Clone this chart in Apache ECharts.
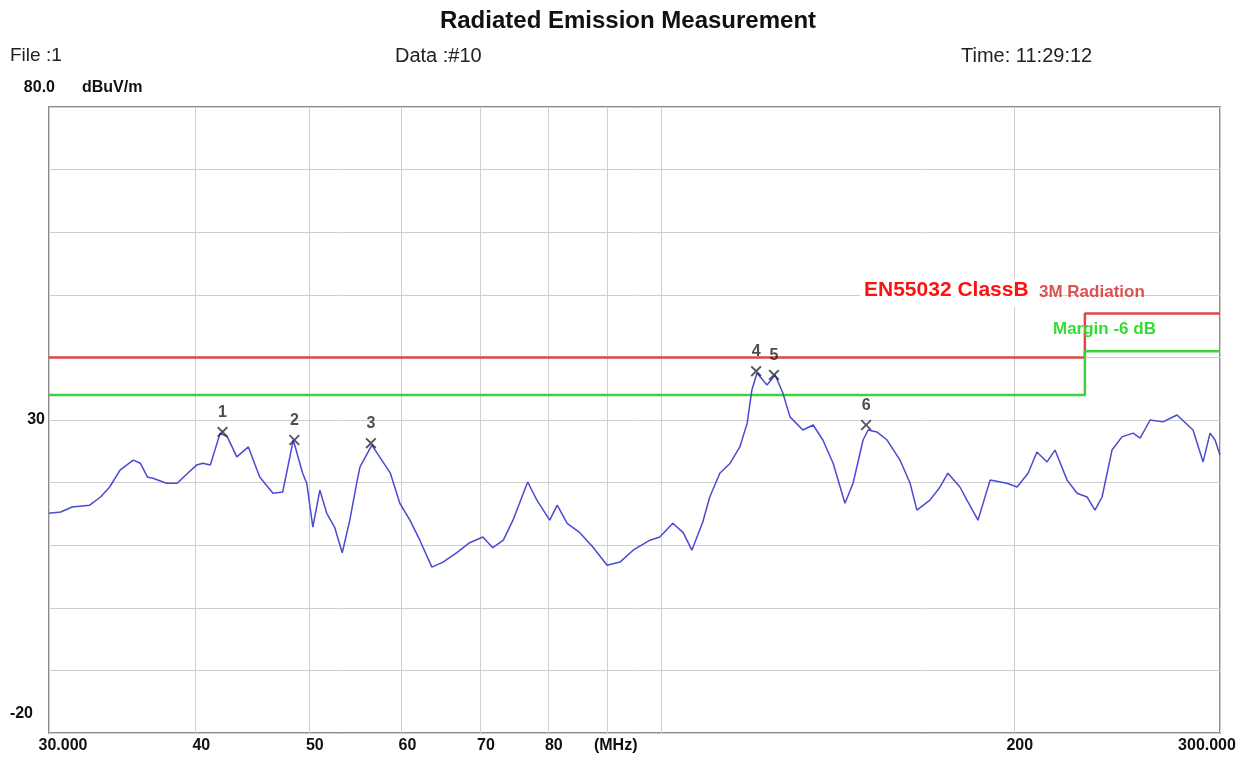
<!DOCTYPE html>
<html>
<head>
<meta charset="utf-8">
<title>Radiated Emission Measurement</title>
<script src="https://cdn.jsdelivr.net/npm/echarts@6/dist/echarts.min.js"></script>
<style>
  html, body { margin: 0; padding: 0; background: #fff; }
  #main { width: 1256px; height: 762px; }
</style>
</head>
<body>
<div id="main"></div>
<script>
var traceFreq = [30.0, 30.7, 31.4, 32.5, 33.2, 33.8, 34.5, 35.4, 35.9, 36.4, 36.8, 37.8, 38.6, 39.4, 40.1, 40.6, 41.2, 42.0, 42.6, 43.4,
  44.4, 45.4, 46.6, 47.5, 48.5, 49.4, 49.8, 50.4, 51.1, 51.8, 52.6, 53.4, 54.2, 55.0, 55.3, 56.6, 58.7, 59.8, 61.0, 62.2,
  63.7, 65.1, 66.9, 68.6, 70.4, 71.8, 73.3, 74.7, 76.9, 78.3, 80.3, 81.5, 83.1, 85.2, 87.4, 89.9, 92.2, 94.6, 97.8, 99.7,
  102.3, 104.4, 106.2, 108.5, 110.0, 112.2, 114.5, 116.7, 118.4, 119.5, 120.7, 123.1, 125.1, 127.0, 128.8, 132.1, 134.8, 137.4, 140.2, 143.5,
  145.8, 148.7, 150.2, 152.8, 155.9, 159.9, 163.1, 165.3, 169.6, 173.0, 175.7, 179.9, 182.4, 186.4, 190.9, 197.3, 201.3, 205.7, 209.3, 213.5,
  216.9, 222.1, 226.5, 231.0, 234.6, 237.9, 242.6, 247.4, 252.9, 256.4, 261.5, 268.2, 275.7, 284.5, 290.2, 294.2, 297.1, 300];
var traceLevel = [15.1, 15.3, 16.1, 16.4, 17.7, 19.3, 22.0, 23.6, 23.1, 20.9, 20.7, 19.9, 19.9, 21.5, 22.8, 23.1, 22.8, 27.9, 27.3, 24.1,
  25.7, 20.9, 18.3, 18.5, 26.8, 21.5, 19.9, 12.9, 18.8, 15.1, 12.9, 8.8, 14.0, 20.4, 22.5, 26.0, 21.5, 16.7, 14.0, 10.8,
  6.5, 7.3, 8.8, 10.4, 11.3, 9.6, 10.8, 14.0, 20.1, 17.2, 14.0, 16.4, 13.5, 12.0, 9.7, 6.8, 7.3, 9.2, 10.8, 11.3,
  13.5, 12.0, 9.2, 13.7, 17.7, 21.5, 23.1, 25.7, 29.5, 34.8, 37.5, 35.6, 37.2, 34.3, 30.5, 28.4, 29.2, 26.8, 23.1, 16.7,
  19.9, 26.8, 28.4, 28.1, 26.8, 23.6, 19.9, 15.6, 17.2, 19.3, 21.5, 19.3, 17.2, 14.0, 20.4, 19.9, 19.3, 21.5, 24.9, 23.3,
  25.2, 20.4, 18.3, 17.7, 15.6, 17.7, 25.2, 27.3, 27.9, 27.1, 30.0, 29.7, 30.8, 28.4, 23.3, 27.9, 26.8, 24.4];

// EN55032 class B 3m limit and -6 dB margin
var limitFreq = [30, 230, 230, 300];
var limitLevel = [40, 40, 47, 47];
var marginLevel = [34, 34, 41, 41];

// peak markers
var markerFreq = [42.2, 48.6, 56.5, 120.5, 124.8, 149.6];
var markerLevel = [28.1, 26.8, 26.3, 37.8, 37.2, 29.2];
var markerNames = ["1", "2", "3", "4", "5", "6"];

// axis ticks
var gridFreq = [30, 40, 50, 60, 70, 80, 90, 100, 200, 300];
var gridLabels = ["30.000", "40", "50", "60", "70", "80", "(MHz)", "", "200", "300.000"];
var yTicks = [80, 30, -20];
var yTickLabels = ["80.0", "30", "-20"];

var lg = Math.log10;
function pairs(fs, vs) {
  return fs.map(function (f, i) { return [lg(f), vs[i]]; });
}

var myChart = echarts.init(document.getElementById("main"));
var labelFont = '"Liberation Sans", Arial, sans-serif';
var xSymbol = "path://M0,1.2L1.2,0L5,3.8L8.8,0L10,1.2L6.2,5L10,8.8L8.8,10L5,6.2L1.2,10L0,8.8L3.8,5Z";

var option = {
  backgroundColor: "#fff",
  animation: false,
  title: {
    text: "Radiated Emission Measurement",
    left: "center",
    top: 4,
    textStyle: { fontFamily: labelFont, fontSize: 24, fontWeight: "bold", color: "#111" }
  },
  graphic: [
    { type: "text", left: 10, top: 46, style: { text: "File :1", fontFamily: labelFont, fontSize: 19, fill: "#222" } },
    { type: "text", left: 395, top: 46, style: { text: "Data :#10", fontFamily: labelFont, fontSize: 20, fill: "#222" } },
    { type: "text", left: 961, top: 46, style: { text: "Time: 11:29:12", fontFamily: labelFont, fontSize: 20, fill: "#222" } },
    // limit legend
    { type: "rect", shape: { x: 860, y: 279, width: 180, height: 28 }, style: { fill: "#fff" }, z: 50 },
    { type: "text", left: 864, top: 280, z: 51,
      style: { text: "EN55032 ClassB", fontFamily: labelFont, fontSize: 21, fontWeight: "bold", fill: "#ff1010" } },
    { type: "text", left: 1039, top: 284, z: 51,
      style: { text: "3M Radiation", fontFamily: labelFont, fontSize: 17, fontWeight: "bold", fill: "rgba(215,50,50,0.85)" } },
    { type: "text", left: 1053, top: 321, z: 51,
      style: { text: "Margin -6 dB", fontFamily: labelFont, fontSize: 17, fontWeight: "bold", fill: "#33dd33" } }
  ],
  grid: {
    left: 49, right: 36, top: 107, bottom: 29,
    show: true, borderColor: "#8c8c8c", borderWidth: 2, backgroundColor: "#fff"
  },
  xAxis: {
    type: "value",
    min: lg(30),
    max: lg(300),
    axisLine: { show: false },
    axisTick: { show: false, customValues: gridFreq.map(lg) },
    splitLine: { show: true, lineStyle: { color: "#cfcfcf", width: 1 } },
    axisLabel: {
      customValues: gridFreq.map(lg),
      margin: 5,
      color: "#111",
      fontFamily: labelFont,
      fontSize: 16,
      fontWeight: "bold",
      formatter: function (v) {
        var f = Math.round(Math.pow(10, v));
        var i = gridFreq.indexOf(f);
        if (i < 0 || !gridLabels[i]) return "";
        var s = gridLabels[i];
        if (f === 30) return "{first|" + s + "}";
        if (f === 300) return "{last|" + s + "}";
        if (f === 90) return "{mhz|" + s + "}";
        return "{n|" + s + "}";
      },
      rich: {
        n: { padding: [0, 0, 0, 12] },
        first: { padding: [0, 0, 0, 28] },
        last: { padding: [0, 26, 0, 0] },
        mhz: { padding: [0, 0, 0, 16] }
      }
    }
  },
  yAxis: {
    type: "value",
    min: -20,
    max: 80,
    interval: 10,
    name: "dBuV/m",
    nameLocation: "end",
    nameGap: 19,
    nameTextStyle: {
      align: "left", verticalAlign: "middle", padding: [0, 0, 0, 33],
      fontFamily: labelFont, fontSize: 16, fontWeight: "bold", color: "#111"
    },
    axisLine: { show: false },
    axisTick: { show: false },
    splitLine: { show: true, lineStyle: { color: "#cfcfcf", width: 1 } },
    axisLabel: {
      margin: -6,
      color: "#111",
      fontFamily: labelFont,
      fontSize: 16,
      fontWeight: "bold",
      formatter: function (v) {
        var i = yTicks.indexOf(v);
        if (i < 0) return "";
        return "{t" + i + "|" + yTickLabels[i] + "}";
      },
      rich: {
        t0: { padding: [0, 0, 38, 0] },
        t1: { padding: [0, 10, 0, 0] },
        t2: { padding: [0, 22, 38, 0] }
      }
    }
  },
  series: [
    {
      name: "Limit",
      type: "line",
      data: pairs(limitFreq, limitLevel),
      symbol: "none",
      lineStyle: { color: "#e0474a", width: 2.5 },
      z: 3
    },
    {
      name: "Margin",
      type: "line",
      data: pairs(limitFreq, marginLevel),
      symbol: "none",
      lineStyle: { color: "#3fd23f", width: 2.5 },
      z: 3
    },
    {
      name: "Level",
      type: "line",
      data: pairs(traceFreq, traceLevel),
      symbol: "none",
      lineStyle: { color: "#4a4ad2", width: 1.5 },
      z: 4
    },
    {
      name: "Peaks",
      type: "scatter",
      data: pairs(markerFreq, markerLevel),
      symbol: xSymbol,
      symbolSize: 11,
      itemStyle: { color: "#2a2a3a" },
      label: {
        show: true,
        position: "top",
        distance: 6,
        fontFamily: labelFont,
        fontSize: 16,
        fontWeight: "bold",
        color: "#222",
        formatter: function (p) { return markerNames[p.dataIndex]; }
      },
      z: 6
    }
  ]
};

option && myChart.setOption(option);
</script>
</body>
</html>
